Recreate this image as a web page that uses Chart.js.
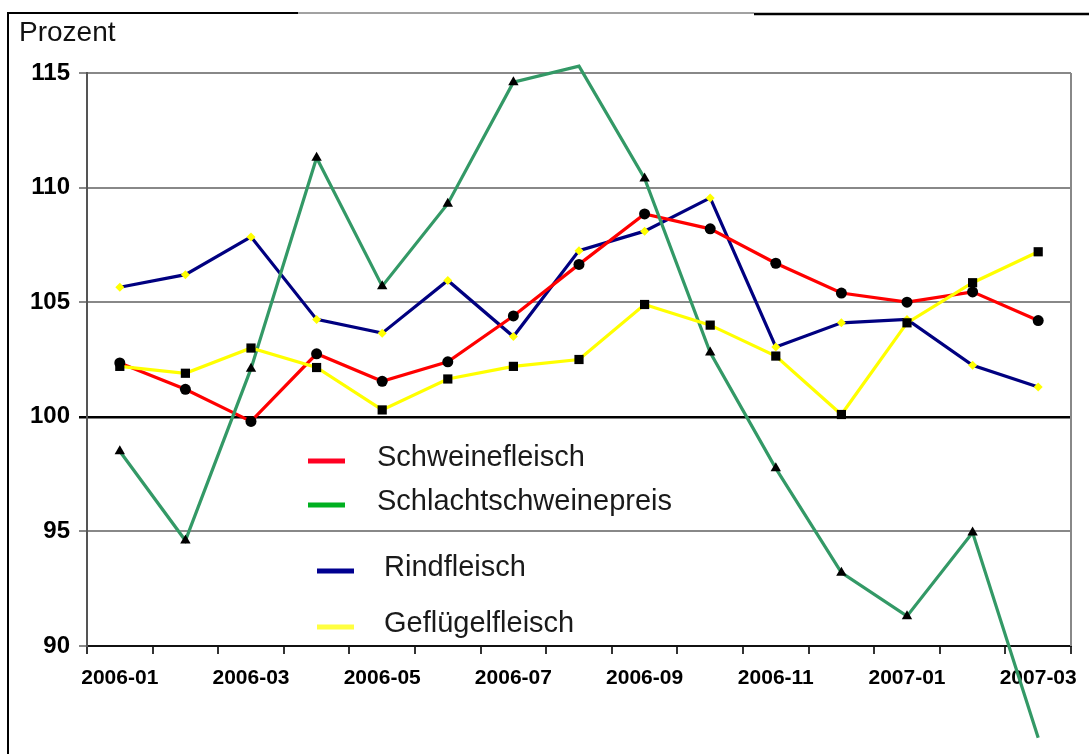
<!DOCTYPE html>
<html>
<head>
<meta charset="utf-8">
<script src="https://cdn.jsdelivr.net/npm/chart.js@4/dist/chart.umd.min.js"></script>
<style>
  html, body { margin: 0; padding: 0; background: #fff; }
  #wrap { width: 1089px; height: 754px; position: relative; }
</style>
</head>
<body>
<div id="wrap"><canvas id="chart" width="1089" height="754"></canvas></div>
<script>
// Monate (Kategorien)
const monate = ['2006-01', '2006-02', '2006-03', '2006-04', '2006-05', '2006-06', '2006-07', '2006-08',
    '2006-09', '2006-10', '2006-11', '2006-12', '2007-01', '2007-02', '2007-03'];

// Werte in Prozent
const schweinefleisch = [102.35, 101.2, 99.8, 102.75, 101.55, 102.4, 104.4, 106.65, 108.85, 108.2, 106.7, 105.4, 105.0, 105.45, 104.2];
const schlachtschweinepreis = [98.5, 94.6, 102.1, 111.3, 105.7, 109.3, 114.6, 115.3, 110.4, 102.8, 97.75, 93.2, 91.3, 94.95, 86.0];
const rindfleisch = [105.65, 106.2, 107.85, 104.25, 103.65, 105.95, 103.5, 107.25, 108.1, 109.55, 103.05, 104.1, 104.25, 102.25, 101.3];
const gefluegelfleisch = [102.2, 101.9, 103.0, 102.15, 100.3, 101.65, 102.2, 102.5, 104.9, 104.0, 102.65, 100.1, 104.1, 105.85, 107.2];

const yTicks = [90, 95, 100, 105, 110, 115];

const fontName = '"Liberation Sans", Arial, sans-serif';

// Punkte ausserhalb des Diagrammbereichs ohne Marker (wie im Original)
const markerRadius = r => ctx => {
    var v = ctx.raw;
    return (v > 115 || v < 90) ? 0 : r;
}

// Rahmen, Titel "Prozent", rechte Kante
const rahmen = {
    id: 'rahmen',
    beforeDraw(chart) {
        const c = chart.ctx;
        c.save();
        c.fillStyle = '#fff';
        c.fillRect(0, 0, chart.width, chart.height);
        c.strokeStyle = '#000';
        c.lineWidth = 2;
        c.beginPath();
        c.moveTo(8, 754);
        c.lineTo(8, 13);
        c.lineTo(298, 13);
        c.stroke();
        c.strokeStyle = '#444';
        c.lineWidth = 1;
        c.beginPath();
        c.moveTo(298, 13);
        c.lineTo(754, 13);
        c.stroke();
        c.strokeStyle = '#000';
        c.lineWidth = 2.5;
        c.beginPath();
        c.moveTo(754, 14);
        c.lineTo(1089, 14);
        c.stroke();

        c.fillStyle = '#111';
        c.font = '28px ' + fontName;
        c.textBaseline = 'middle';
        c.fillText('Prozent', 19, 33);
        c.restore();
    },
    beforeDatasetsDraw(chart) {
        const a = chart.chartArea;
        const c = chart.ctx;
        c.save();
        c.strokeStyle = '#888';
        c.lineWidth = 2;
        c.beginPath();
        c.moveTo(a.right, a.top);
        c.lineTo(a.right, a.bottom);
        c.stroke();
        c.restore();
    }
}

// Legende innerhalb des Diagramms
const legende = {
    id: 'legende',
    afterDatasetsDraw(chart) {
        const c = chart.ctx;
        const items = [
            { x: 308, tx: 377, y: 461, color: '#ff0022' },
            { x: 308, tx: 377, y: 505, color: '#00b020' },
            { x: 317, tx: 384, y: 571, color: '#000090' },
            { x: 317, tx: 384, y: 627, color: '#ffff40' }
        ];
        c.save();
        c.font = '29px ' + fontName;
        c.textBaseline = 'middle';
        chart.data.datasets.forEach((ds, i) => {
            const it = items[i];
            c.strokeStyle = it.color;
            c.lineWidth = 5;
            c.beginPath();
            c.moveTo(it.x, it.y);
            c.lineTo(it.x + 37, it.y);
            c.stroke();
            c.fillStyle = '#1a1a1a';
            c.fillText(ds.label, it.tx, it.y - 3);
        });
        c.restore();
    }
}

const ctx = document.getElementById('chart').getContext('2d');
const myChart = new Chart(ctx, {
    type: 'line',
    data: {
        labels: monate,
        datasets: [{
            label: 'Schweinefleisch',
            data: schweinefleisch,
            borderColor: '#ff0000',
            backgroundColor: '#000',
            pointStyle: 'circle',
            pointRadius: 5.5,
            order: 3
        }, {
            label: 'Schlachtschweinepreis',
            data: schlachtschweinepreis,
            borderColor: '#339966',
            backgroundColor: '#000',
            pointStyle: 'triangle',
            pointRadius: markerRadius(6),
            order: 2
        }, {
            label: 'Rindfleisch',
            data: rindfleisch,
            borderColor: '#000080',
            backgroundColor: '#ffff00',
            pointStyle: 'rectRot',
            pointRadius: 4.5,
            order: 4
        }, {
            label: 'Geflügelfleisch',
            data: gefluegelfleisch,
            borderColor: '#ffff00',
            backgroundColor: '#000',
            pointStyle: 'rect',
            pointRadius: 6.5,
            order: 1
        }]
    },
    plugins: [rahmen, legende],
    options: {
        responsive: false,
        animation: false,
        layout: {
            padding: { left: 0, top: 73, right: 8, bottom: 0 }
        },
        elements: {
            line: { borderWidth: 3.2, tension: 0 },
            point: { borderWidth: 0, hoverRadius: 5 }
        },
        datasets: {
            line: { clip: false }
        },
        plugins: {
            legend: { display: false },
            tooltip: { enabled: false }
        },
        scales: {
            x: {
                offset: true,
                grid: {
                    offset: true,
                    drawOnChartArea: false,
                    tickLength: 8,
                    color: '#333',
                    lineWidth: 2
                },
                border: { color: '#111', width: 2 },
                ticks: {
                    autoSkip: false,
                    maxRotation: 0,
                    padding: 12,
                    color: '#000',
                    font: { family: fontName, size: 21, weight: 'bold' },
                    callback: function(value, index) {
                        return index % 2 === 0 ? this.getLabelForValue(value) : '';
                    }
                },
                afterFit: scale => { scale.height = 108; }
            },
            y: {
                min: 90,
                max: 115,
                afterBuildTicks: axis => {
                    axis.ticks = yTicks.map(v => ({ value: v }));
                },
                grid: {
                    tickLength: 8,
                    color: c => c.tick && c.tick.value === 100 ? '#000' : '#888',
                    lineWidth: c => c.tick && c.tick.value === 100 ? 2.5 : 2
                },
                border: { color: '#555', width: 2 },
                ticks: {
                    padding: 9,
                    color: '#000',
                    font: { family: fontName, size: 24, weight: 'bold' }
                },
                afterFit: scale => { scale.width = 87; }
            }
        }
    }
});
</script>
</body>
</html>
